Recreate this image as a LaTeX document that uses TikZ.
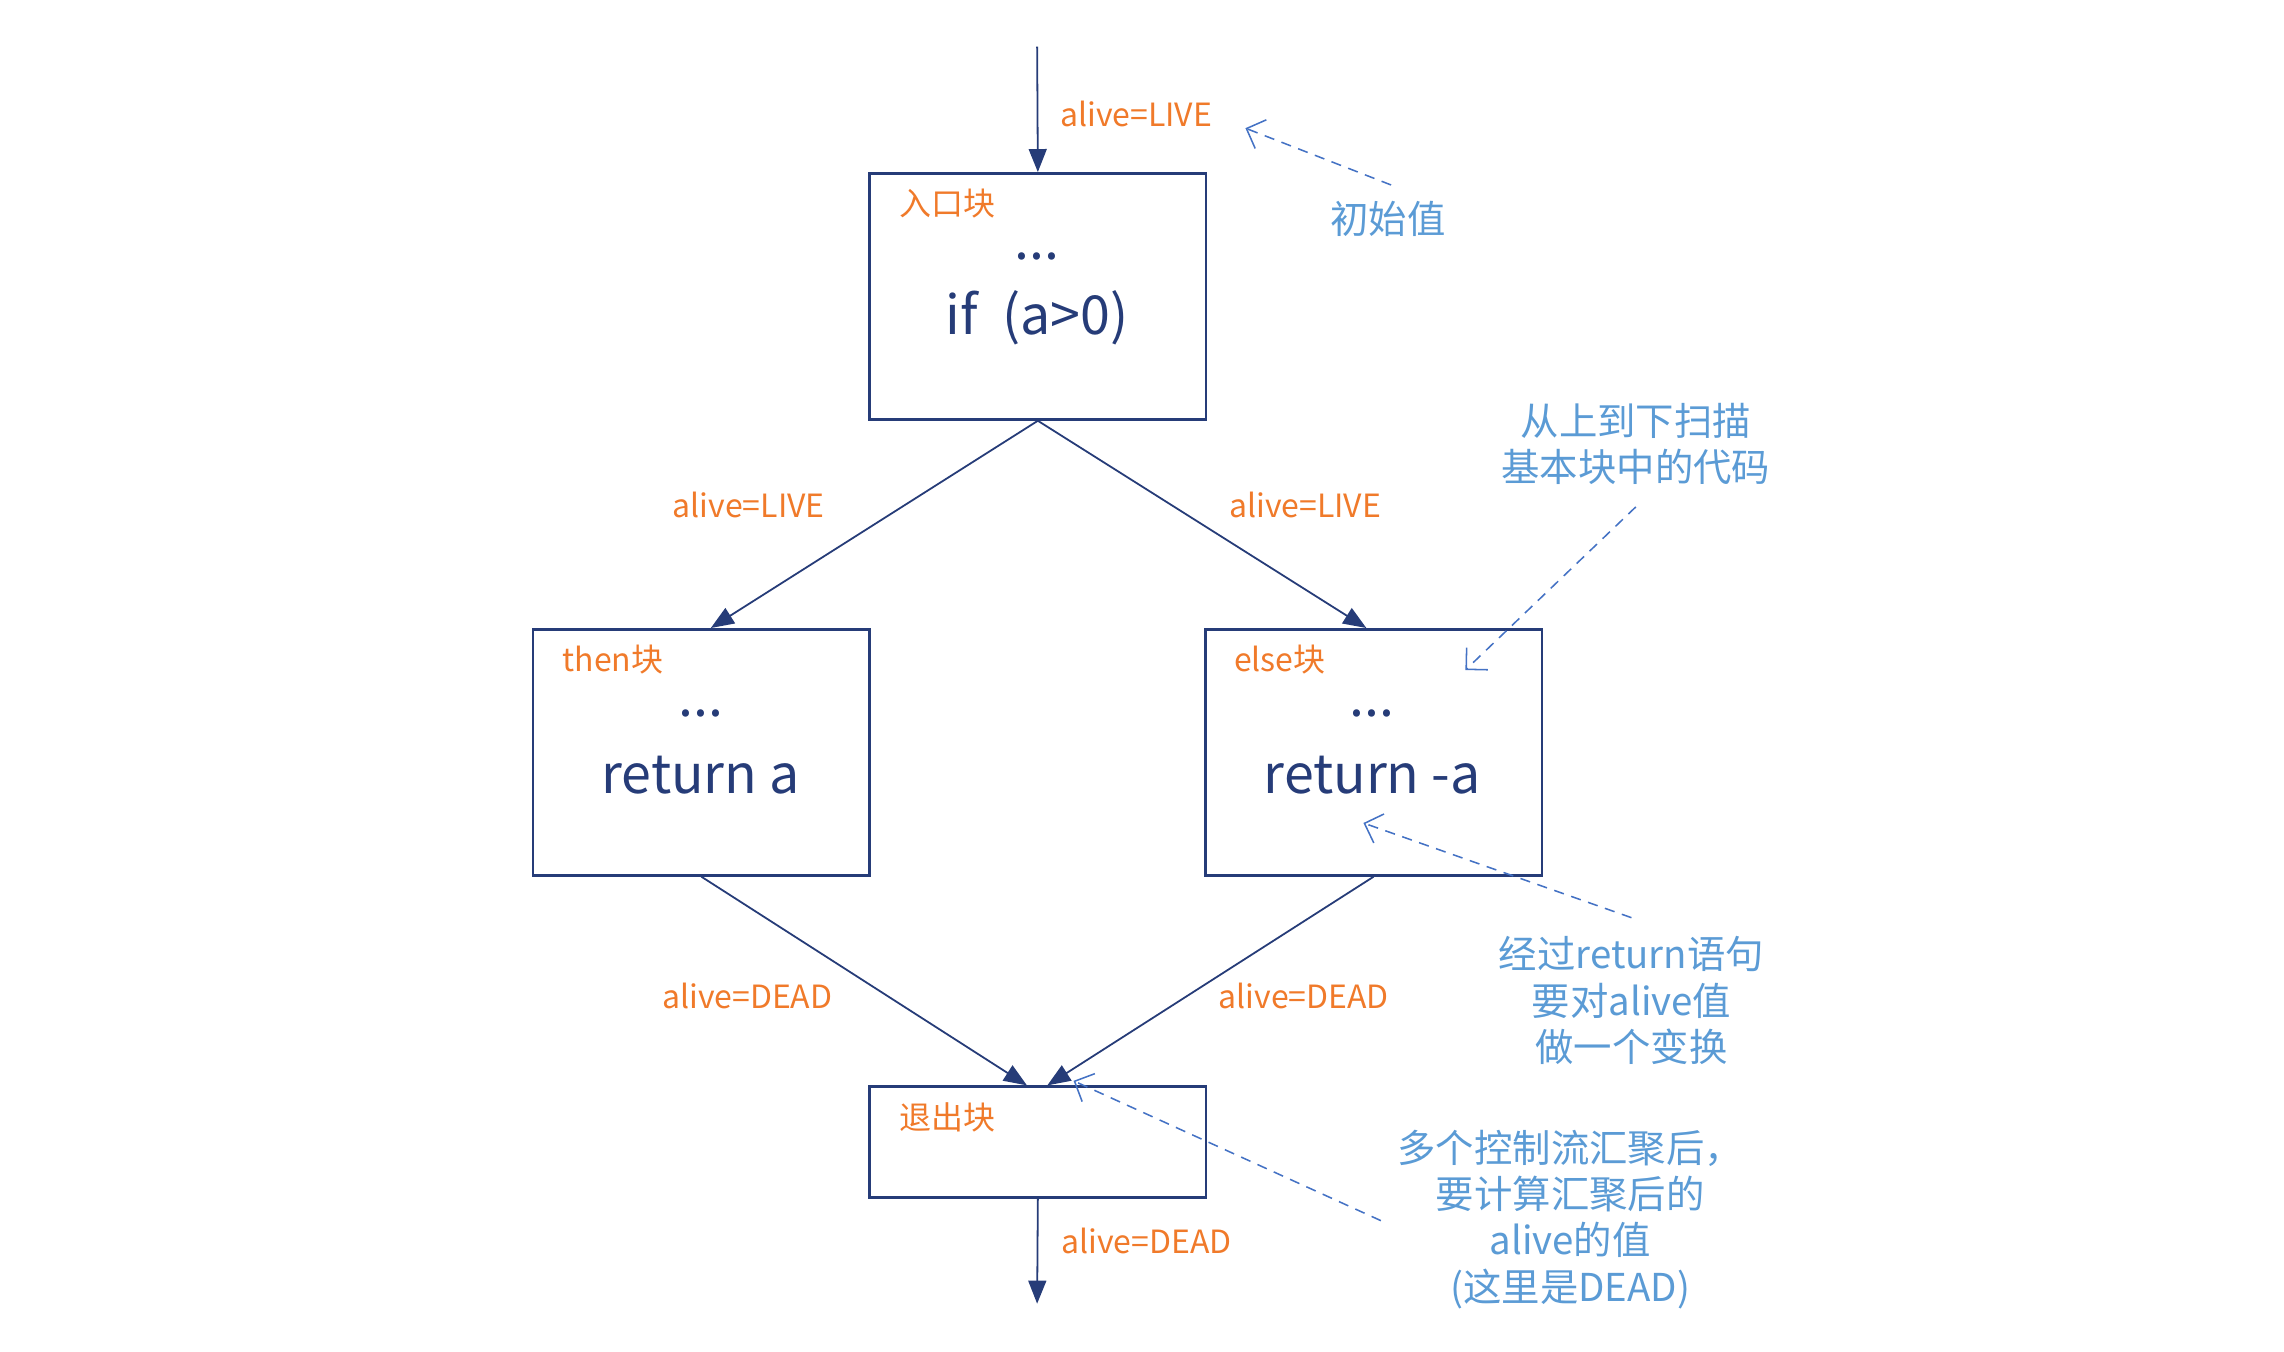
\documentclass[tikz,border=0pt]{standalone}
\usepackage{fontspec}
\setmainfont{Noto Sans CJK SC}
\usetikzlibrary{arrows.meta,positioning}
\definecolor{navy}{HTML}{263C78}
\definecolor{tagorange}{HTML}{F07A2A}
\definecolor{noteblue}{HTML}{5B9BD5}
\definecolor{hintblue}{HTML}{4472C4}
\tikzset{
blk/.style={
  draw=navy,
  line width=1pt,
  minimum width=4.62cm,
  minimum height=3.38cm,
  inner sep=0pt
  },
tag/.style={text=tagorange,font=\fontsize{12.5}{15}\selectfont,anchor=west},
code/.style={text=navy,font=\fontsize{21}{25}\selectfont},
val/.style={text=tagorange,font=\fontsize{12.5}{15}\selectfont},
note/.style={text=noteblue,font=\fontsize{15}{18.1}\selectfont,align=center},
flow/.style={draw=navy,line width=0.7pt,-{Triangle[length=9pt,width=7pt]}},
hint/.style={draw=hintblue,line width=0.6pt,dash pattern=on 4pt off 3pt,
  -{Straight Barb[length=6pt,width=12pt]}}
}

\begin{document}
\begin{tikzpicture}[x=0.02cm,y=-0.02cm]
\useasboundingbox (0,0) rectangle (1568,928);

% blocks
\node[blk] (entry) at (712.5,203.5) {};
\node[blk] (thenb) at (481.5,516.5) {};
\node[blk] (elseb) at (943,516.5) {};
\node[blk,minimum height=1.52cm] (exitb) at (712.5,784) {};

\node[tag] (entry-tag) at (611,140) {入口块};
\node[tag] (then-tag) at (380,453) {then块};
\node[tag] (else-tag) at (841,453) {else块};
\node[tag] (exit-tag) at (611,767) {退出块};

\node[code] (entry-dots) at (712,176) {...};
\node[code] (entry-code) at (712,218) {if\ \ (a>0)};
\node[code] (then-dots) at (481,490) {...};
\node[code] (then-code) at (481,532) {return a};
\node[code] (else-dots) at (942,490) {...};
\node[code] (else-code) at (942,532) {return -a};

% flow
\coordinate (start) at (712,32);
\coordinate (stop) at (712,895);
\draw[flow] (start) -- (entry.north);
\draw[flow] (entry.south) -- ([xshift=0.13cm]thenb.north);
\draw[flow] (entry.south) -- ([xshift=-0.1cm]elseb.north);
\draw[flow] (thenb.south) -- ([xshift=-0.15cm]exitb.north);
\draw[flow] (elseb.south) -- ([xshift=0.13cm]exitb.north);
\draw[flow] (exitb.south) -- (stop);

\node[val] (v-in) at (780,78) {alive=LIVE};
\node[val] (v-then) at (514,347) {alive=LIVE};
\node[val] (v-else) at (896,347) {alive=LIVE};
\node[val] (d-then) at (513,684) {alive=DEAD};
\node[val] (d-else) at (895,684) {alive=DEAD};
\node[val] (d-out) at (787,852) {alive=DEAD};

% notes
\node[note] (n-init) at (953,150) {初始值};
\node[note] (n-scan) at (1123,305) {从上到下扫描\\基本块中的代码};
\node[note] (n-ret) at (1120,687) {经过return语句\\要对alive值\\做一个变换};
\node[note] (n-join) at (1078,837) {多个控制流汇聚后，\\要计算汇聚后的\\alive的值\\(这里是DEAD)};

\coordinate (h1a) at (955,127);
\coordinate (h1b) at (855,88);
\coordinate (h2a) at (1123,348);
\coordinate (h2b) at (1006,460);
\coordinate (h3a) at (1120,630);
\coordinate (h3b) at (936,565);
\coordinate (h4a) at (948,838);
\coordinate (h4b) at (737,742);
\draw[hint] (h1a) -- (h1b);
\draw[hint] (h2a) -- (h2b);
\draw[hint] (h3a) -- (h3b);
\draw[hint] (h4a) -- (h4b);
\end{tikzpicture}
\end{document}
